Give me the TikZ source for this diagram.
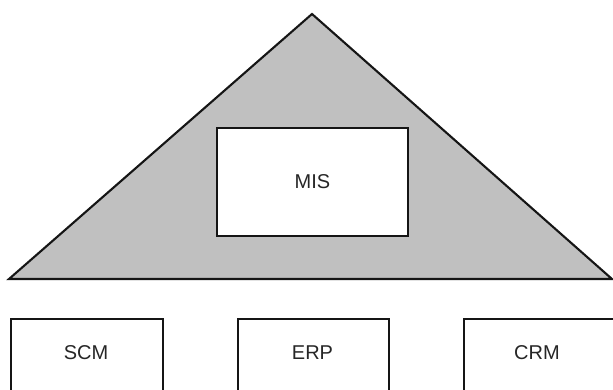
\documentclass[tikz,border=0pt]{standalone}
\usepackage{fontspec}
\setmainfont{Liberation Sans}
\definecolor{tri}{HTML}{C0C0C0}
\definecolor{edge}{HTML}{151515}
\tikzset{
  boxshape/.style={draw=edge, line width=2.1pt, fill=white, rectangle, inner sep=0pt},
  lbl/.style={font=\fontsize{20}{23}\selectfont, text=black!85, inner sep=0pt}
}
\begin{document}
\begin{tikzpicture}[x=1pt,y=-1pt]
\useasboundingbox (0,0) rectangle (613,390);
\clip (0,0) rectangle (613,390);
\draw[draw=edge, line width=2.1pt, fill=tri, line join=miter] (312,14) -- (612,279) -- (9,279) -- cycle;
\node[boxshape, minimum width=191pt, minimum height=108pt] (mis) at (312.5,182) {};
\node[lbl] (mislbl) at (mis.center) {MIS};
\node[boxshape, anchor=north west, minimum width=152pt, minimum height=120pt] (scm) at (10,318) {};
\node[boxshape, anchor=north west, minimum width=151pt, minimum height=120pt] (erp) at (237,318) {};
\node[boxshape, anchor=north west, minimum width=152pt, minimum height=120pt] (crm) at (463,318) {};
\node[lbl] (scmlbl) at (86,353) {SCM};
\node[lbl] (erplbl) at (312.5,353) {ERP};
\node[lbl] (crmlbl) at (537,353) {CRM};
\end{tikzpicture}
\end{document}
